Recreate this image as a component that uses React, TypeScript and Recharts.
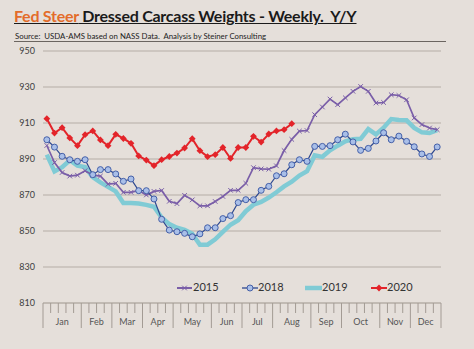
import React from "react";
import { LineChart, Line, XAxis, YAxis, CartesianGrid } from "recharts";

// weekly dressed weights, lbs
const weeks = Array.from({ length: 52 }, (_, i) => i + 1);

const months = ["Jan", "Feb", "Mar", "Apr", "May", "Jun", "Jul", "Aug", "Sep", "Oct", "Nov", "Dec"];
const monthWeeks = [5, 4, 4, 4, 5, 4, 4, 5, 4, 5, 4, 4];

const yTicks = [810, 830, 850, 870, 890, 910, 930, 950];

const w2015 = [
  897.5, 888, 882.5, 880.5, 881, 883.5, 881, 880.5, 876, 876.5, 871.5, 871.5, 872.5,
  870, 872, 872.5, 866.5, 865.2, 869.8, 867.3, 864, 864, 866.4, 869.2, 872.6, 872.6,
  876.5, 885.2, 884.5, 884.3, 886.2, 894.7, 900.9, 905.5, 905.8, 914.6, 918.9, 923.3,
  920.2, 924, 927.6, 930.3, 927.6, 921.1, 921.4, 925.7, 925.3, 922.9, 912.8, 909.1, 907.2, 906.3,
];

const w2018 = [
  900.7, 896.6, 891.5, 889.6, 888.7, 889.6, 881.3, 884.1, 884.1, 881.7, 877.6, 878.9, 872.4,
  872.4, 867.8, 856.5, 850.5, 849.6, 848.7, 846.8, 848.4, 851.8, 851.8, 856.9, 858.5, 865.8,
  867.4, 867.4, 872.6, 874.8, 880.7, 881.8, 886.8, 889.6, 888.7, 897, 897, 897.4, 900.7,
  903.8, 899.5, 894.8, 895.9, 900, 904.6, 900.7, 902.7, 899.8, 896.8, 892.8, 891.4, 896.7,
];

const w2019 = [
  892.4, 883.1, 885.5, 889.3, 886.3, 885.5, 880, 877, 874.5, 872, 865.5, 865.5, 865.3,
  864.5, 863.5, 857.5, 853.8, 851.8, 850.6, 848.5, 842.4, 842.4, 845.4, 849.5, 853.5, 856,
  861, 864.6, 866.2, 868.6, 871.5, 874.8, 877.4, 880.8, 883.2, 892, 891.2, 894.8, 897.4,
  899.8, 901, 901.2, 906.6, 903.7, 907.4, 912.2, 911.7, 911.5, 907.3, 904.8, 904.4, 906,
];

const w2020 = [
  912.4, 904.4, 907.4, 901.7, 897.4, 903.5, 905.6, 900.6, 897.4, 903.7, 901.4, 898.7, 891.7,
  889.4, 886.3, 889.6, 891.4, 893.3, 896.1, 901.3, 894.6, 891.3, 892.4, 896.4, 890.3, 896.4,
  896.4, 902.6, 899.4, 903.9, 905.6, 906.3, 909.6,
];

const C2015 = "#7a5ea8";
const C2018 = "#2d4890";
const C2019 = "#80cbd5";
const C2020 = "#e3242a";
const GRID = "#b5ada6";

const data = weeks.map((w, i) => ({
  pos: w - 0.5,
  y2015: w2015[i],
  y2018: w2018[i],
  y2019: w2019[i],
  y2020: w2020[i],
}));

// month boundaries and label positions (in weeks)
const bounds: number[] = [0];
monthWeeks.forEach((n) => bounds.push(bounds[bounds.length - 1] + n));
const mids = monthWeeks.map((n, i) => bounds[i] + n / 2);
const xTicks = Array.from(new Set([...Array.from({ length: 53 }, (_, i) => i), ...mids])).sort((a, b) => a - b);

const WeekTick = (props: any) => {
  const { x, y, payload } = props;
  const v = payload.value;
  const mi = mids.indexOf(v);
  const isInt = Number.isInteger(v);
  const long = bounds.includes(v);
  return (
    <g>
      {isInt && <line x1={x} x2={x} y1={y} y2={y + (long ? 25 : 10)} stroke="#a39b94" strokeWidth={1} />}
      {mi >= 0 && (
        <text x={x} y={y + 20} textAnchor="middle" dominantBaseline="middle" fontSize={9} fill="#555">
          {months[mi]}
        </text>
      )}
    </g>
  );
};

const CrossDot = (p: any) => {
  const { cx, cy } = p;
  if (cx == null || cy == null) return <g />;
  const s = 2.3;
  return (
    <path
      d={`M${cx - s},${cy - s}L${cx + s},${cy + s}M${cx - s},${cy + s}L${cx + s},${cy - s}`}
      stroke={C2015}
      strokeWidth={1}
    />
  );
};

const DiamondDot = (p: any) => {
  const { cx, cy } = p;
  if (cx == null || cy == null) return <g />;
  const s = 3.4;
  return <path d={`M${cx},${cy - s}L${cx + s},${cy}L${cx},${cy + s}L${cx - s},${cy}Z`} fill={C2020} />;
};

const LegendBox = () => (
  <svg width={474} height={20} style={{ position: "absolute", left: 0, top: 278 }}>
    <g fontSize={11} fill="#333">
      <line x1={177} x2={192} y1={10} y2={10} stroke={C2015} strokeWidth={2} />
      <CrossDot cx={184.5} cy={10} />
      <text x={193} y={10} dominantBaseline="middle">2015</text>

      <line x1={242} x2={258} y1={10} y2={10} stroke={C2018} strokeWidth={1.3} />
      <circle cx={250} cy={10} r={3} fill="#a9bfe8" stroke="#4560a8" strokeWidth={1} />
      <text x={258} y={10} dominantBaseline="middle">2018</text>

      <line x1={305} x2={322} y1={10} y2={10} stroke={C2019} strokeWidth={4.5} />
      <text x={322} y={10} dominantBaseline="middle">2019</text>

      <line x1={371} x2={387} y1={10} y2={10} stroke={C2020} strokeWidth={2} />
      <DiamondDot cx={379} cy={10} />
      <text x={387} y={10} dominantBaseline="middle">2020</text>
    </g>
  </svg>
);

export default function App() {
  return (
    <div
      style={{
        position: "absolute",
        left: 0,
        top: 0,
        width: 474,
        height: 349,
        background: "#e5dfda",
        fontFamily: "Lato, 'Open Sans', sans-serif",
        overflow: "hidden",
      }}
    >
      <div
        style={{
          position: "absolute",
          left: 14,
          top: 6,
          fontSize: 16,
          fontWeight: 700,
          textDecoration: "underline",
          whiteSpace: "pre",
          color: "#1a1a1a",
          letterSpacing: -0.25,
        }}
      >
        <span style={{ color: "#e36c2a" }}>Fed Steer</span> Dressed Carcass Weights - Weekly.  Y/Y
      </div>
      <div style={{ position: "absolute", left: 15, top: 31, fontSize: 7.8, color: "#222", whiteSpace: "pre" }}>
        Source:  USDA-AMS based on NASS Data.  Analysis by Steiner Consulting
      </div>
      <div style={{ position: "absolute", left: 14, top: 41, width: 432, height: 1, background: "#6b6560" }} />

      <div style={{ position: "absolute", left: 0, top: 0 }}>
        <LineChart width={474} height={349} data={data} margin={{ top: 51, right: 33, bottom: 16, left: 0 }}>
          <CartesianGrid vertical={false} stroke={GRID} strokeWidth={1.2} />
          <XAxis
            dataKey="pos"
            type="number"
            domain={[0, 52]}
            ticks={xTicks}
            interval={0}
            tickLine={false}
            tickSize={0}
            tickMargin={0}
            height={30}
            axisLine={{ stroke: GRID, strokeWidth: 1.2 }}
            tick={<WeekTick />}
          />
          <YAxis
            domain={[810, 950]}
            ticks={yTicks}
            interval={0}
            width={43}
            axisLine={false}
            tickLine={false}
            tickSize={0}
            tickMargin={8}
            tick={{ fontSize: 9, fill: "#404040" }}
          />
          <Line dataKey="y2019" stroke={C2019} strokeWidth={4.5} dot={false} isAnimationActive={false} />
          <Line dataKey="y2015" stroke={C2015} strokeWidth={1.7} dot={<CrossDot />} isAnimationActive={false} />
          <Line
            dataKey="y2018"
            stroke={C2018}
            strokeWidth={1.2}
            dot={{ r: 3, fill: "#a9bfe8", stroke: "#4560a8", strokeWidth: 1 }}
            isAnimationActive={false}
          />
          <Line dataKey="y2020" stroke={C2020} strokeWidth={2} dot={<DiamondDot />} isAnimationActive={false} />
        </LineChart>
      </div>
      <LegendBox />
    </div>
  );
}
